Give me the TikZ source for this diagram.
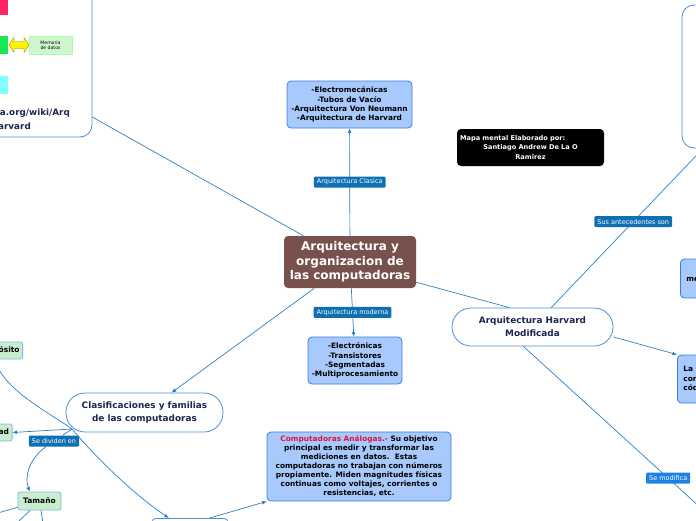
\documentclass[tikz,border=0pt]{standalone}
\usepackage{fontspec}
\setmainfont{DejaVu Sans}
\usetikzlibrary{arrows.meta,positioning}
\definecolor{topicbrown}{RGB}{121,81,76}
\definecolor{boxfill}{RGB}{168,201,252}
\definecolor{boxline}{RGB}{59,125,221}
\definecolor{pillline}{RGB}{74,144,214}
\definecolor{linkblue}{RGB}{43,128,196}
\definecolor{tagblue}{RGB}{14,112,178}
\definecolor{tagbright}{RGB}{30,130,228}
\definecolor{navy}{RGB}{28,38,80}
\definecolor{leafgreen}{RGB}{200,238,206}
\definecolor{leafline}{RGB}{135,182,232}
\definecolor{analogred}{RGB}{222,20,62}
\definecolor{hotpink}{RGB}{255,36,104}
\definecolor{brightgreen}{RGB}{24,232,86}
\definecolor{aqua}{RGB}{128,255,255}
\definecolor{memgreen}{RGB}{208,246,208}
\tikzset{%
	topic/.style    = {fill=topicbrown, rounded corners=4pt, text=white, align=center, font=\bfseries\fontsize{12}{14.5}\selectfont, minimum width=132pt, minimum height=52pt, inner sep=2pt}, % central idea
	note/.style     = {draw=boxline, fill=boxfill, line width=0.8pt, rounded corners=4pt, align=center, font=\bfseries\fontsize{7.4}{9.2}\selectfont, inner sep=2pt},
	pill/.style     = {draw=pillline, fill=white, line width=0.8pt, rounded corners=19pt, align=center, text=navy, font=\bfseries\fontsize{8.9}{12.7}\selectfont},
	panel/.style    = {draw=pillline, fill=white, line width=0.8pt, rounded corners=12pt},
	author/.style   = {fill=black, text=white, rounded corners=4pt, text width=141pt, align=center, minimum height=37pt, inner xsep=3pt, font=\bfseries\fontsize{6.6}{9.8}\selectfont},
	leaf/.style     = {draw=leafline, fill=leafgreen, line width=0.8pt, rounded corners=2pt, minimum height=17pt, inner xsep=3pt, font=\bfseries\fontsize{7.5}{9}\selectfont},
	tag/.style      = {fill=tagblue, text=white, rounded corners=1pt, minimum height=11pt, inner xsep=3pt, inner ysep=1pt, font=\fontsize{6.5}{7}\selectfont}, % relation label
	url/.style      = {text=navy, inner sep=0pt, font=\bfseries\fontsize{8.8}{10}\selectfont},
	link/.style     = {draw=linkblue, line width=0.7pt},
	linkarrow/.style= {link, -{Latex[length=4.5pt,width=4pt]}},
}

\begin{document}
\begin{tikzpicture}[x=1pt,y=-1pt]
	\useasboundingbox (0,0) rectangle (696,520);
	\clip (0,0) rectangle (696,520);

	% centre and main branches
	\node [topic] (arq) at (350,262) {Arquitectura y\\organizacion de\\las computadoras};
	\node [note, minimum width=125pt, minimum height=47pt] (clasica) at (349.5,104.5) {-Electromecánicas\\-Tubos de Vacío\\-Arquitectura Von Neumann\\-Arquitectura de Harvard};
	\node [note, minimum width=94pt, minimum height=47pt] (moderna) at (355,360.5) {-Electrónicas\\-Transistores\\-Segmentadas\\-Multiprocesamiento};
	\node [pill, minimum width=161pt, minimum height=38pt] (harvard) at (532.5,327) {Arquitectura Harvard\\Modificada};
	\node [pill, minimum width=157pt, minimum height=39pt] (clasif) at (144.5,412.5) {Clasificaciones y familias\\de las computadoras};
	\node [note, minimum width=184pt, minimum height=69pt, font=\bfseries\fontsize{7.4}{9}\selectfont] (analog) at (359,466.5) {\textcolor{analogred}{Computadoras Análogas.-} Su objetivo\\principal es medir y transformar las\\mediciones en datos.\ \ Estas\\computadoras no trabajan con números\\propiamente. Miden magnitudes físicas\\continuas como voltajes, corrientes o\\resistencias, etc.};
	\node [author] (autor) at (530.5,147.5) {\makebox[141pt][l]{Mapa mental Elaborado por:}\\Santiago Andrew De La O\\Ramirez};

	% boxes cut by the edges
	\node [panel, minimum width=220pt, minimum height=164pt] (harvimg) at (-18,55) {};
	\fill [hotpink] (-10,-5) rectangle (8,15);
	\fill [brightgreen] (-10,36) rectangle (8,54);
	\filldraw [fill=yellow, draw=olive, line width=0.4pt] (9,45) -- (14,37.5) -- (14,41.5) -- (24,41.5) -- (24,37.5) -- (29,45) -- (24,52.5) -- (24,48.5) -- (14,48.5) -- (14,52.5) -- cycle;
	\node [draw=green!35!white, fill=memgreen, line width=0.4pt, minimum width=43pt, minimum height=18pt, inner sep=1pt, align=center, font=\fontsize{4.6}{5.4}\selectfont] (memdatos) at (50.5,45) {Memoria\\de datos};
	\fill [aqua] (-10,76) rectangle (8,94);
	\node [url, anchor=east] (urla) at (70,113) {https://es.wikipedia.org/wiki/Arq};
	\node [url, anchor=east] (urlb) at (31,127) {uitectura\_Harvard};

	\node [panel, minimum width=179pt, minimum height=143pt] (antec) at (771.5,76.5) {};
	\node [note, anchor=west, minimum height=39pt, text width=50pt, align=left, inner xsep=6pt] (memo) at (680,278.5) {memoria};
	\node [note, anchor=west, minimum height=48pt, text width=60pt, align=left, inner xsep=6pt] (lamem) at (677,379) {La memoria\\contiene\\código};
	\node [panel, rounded corners=4pt, anchor=north, minimum width=76pt, minimum height=30pt] (tipos) at (190,518) {};

	% leaves of the classification
	\node [leaf, anchor=east] (prop) at (23,350.5) {Propósito};
	\node [leaf, anchor=east] (capac) at (12.5,432.5) {Capacidad};
	\node [leaf, minimum width=43pt, minimum height=18pt] (tam) at (39.5,501) {Tamaño};

	% connectors
	\draw [linkarrow] (arq) -- node [tag] {Arquitectura Clasica} (clasica);
	\draw [linkarrow] (arq) -- node [tag] {Arquitectura moderna} (moderna);
	\draw [linkarrow] (arq) -- (clasif);
	\draw [link] (arq) -- (harvimg);
	\draw [link] (arq.-17) -- (harvard.140);
	\draw [link] (harvard.46) -- node [tag, pos=0.54] {Sus antecedentes son} (antec);
	\draw [linkarrow] (harvard.-7) -- (lamem.north west);
	\coordinate (cambio) at (825,621);
	\draw [link] (harvard.-115) -- node [tag, fill=tagbright, pos=0.48] {Se modifica} (cambio);
	\draw [linkarrow] (tipos.38) -- (analog.south west);

	\coordinate (hub) at (72,429);
	\node [tag] (divide) at (54,441) {Se dividen en};
	\draw [link] (hub) -- (divide);
	\draw [linkarrow] (hub) -- (capac.east);
	\draw [linkarrow] (hub) .. controls (45,410) and (8,392) .. (prop.-120);
	\draw [linkarrow] (hub) .. controls (100,462) and (135,495) .. (tipos.144);
	\draw [linkarrow] (divide) .. controls (30,458) and (24,476) .. (tam.136);
	\foreach \name/\where in {tamA/{-30,521}, tamB/{10,530}, tamC/{45,536}} {
		\coordinate (\name) at (\where);
		\draw [linkarrow] (tam) -- (\name);
	}
\end{tikzpicture}
\end{document}
